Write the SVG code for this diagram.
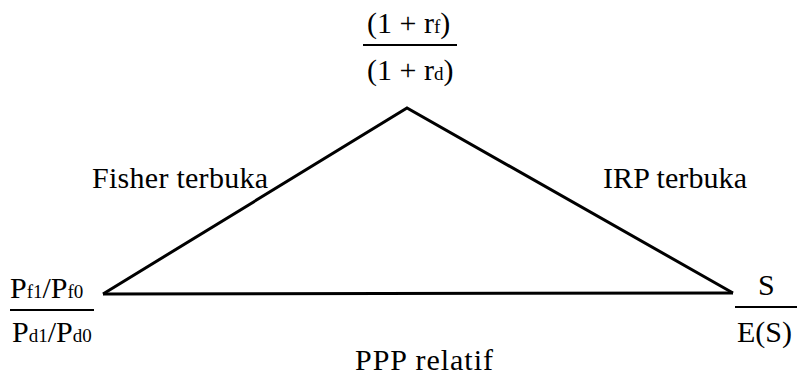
<svg xmlns="http://www.w3.org/2000/svg" width="797" height="383" viewBox="0 0 797 383">
<style>
text{font-family:'Liberation Serif','Nimbus Roman','Nimbus Roman No9 L',FreeSerif,'Noto Serif','DejaVu Serif',Georgia,serif;fill:#000;font-size:30px}
.s{font-size:19px}
.edge{stroke:#000;stroke-width:3;fill:none;stroke-linejoin:miter}
.bar{stroke:#000;stroke-width:2}
</style>
<rect width="797" height="383" fill="#fff"/>
<g id="connectors">
<polyline class="edge" points="103,294 407,108 733,293"/>
<line class="edge" x1="103" y1="294" x2="733" y2="293"/>
<text x="92" y="188" textLength="176">Fisher terbuka</text>
<text x="603" y="188" textLength="144">IRP terbuka</text>
<text x="355" y="370" textLength="138">PPP relatif</text>
</g>
<g id="node-top">
<text x="367" y="33">(1 + r<tspan class="s">f</tspan>)</text>
<line class="bar" x1="363" y1="45" x2="457" y2="45"/>
<text x="367" y="80">(1 + r<tspan class="s">d</tspan>)</text>
</g>
<g id="node-left">
<text x="10" y="298">P<tspan class="s">f1</tspan>/P<tspan class="s">f0</tspan></text>
<line class="bar" x1="10" y1="310" x2="94" y2="310"/>
<text x="12" y="342">P<tspan class="s">d1</tspan>/P<tspan class="s">d0</tspan></text>
</g>
<g id="node-right">
<text x="758" y="295">S</text>
<line class="bar" x1="735" y1="307" x2="797" y2="307"/>
<text x="737" y="342">E(S)</text>
</g>
</svg>
